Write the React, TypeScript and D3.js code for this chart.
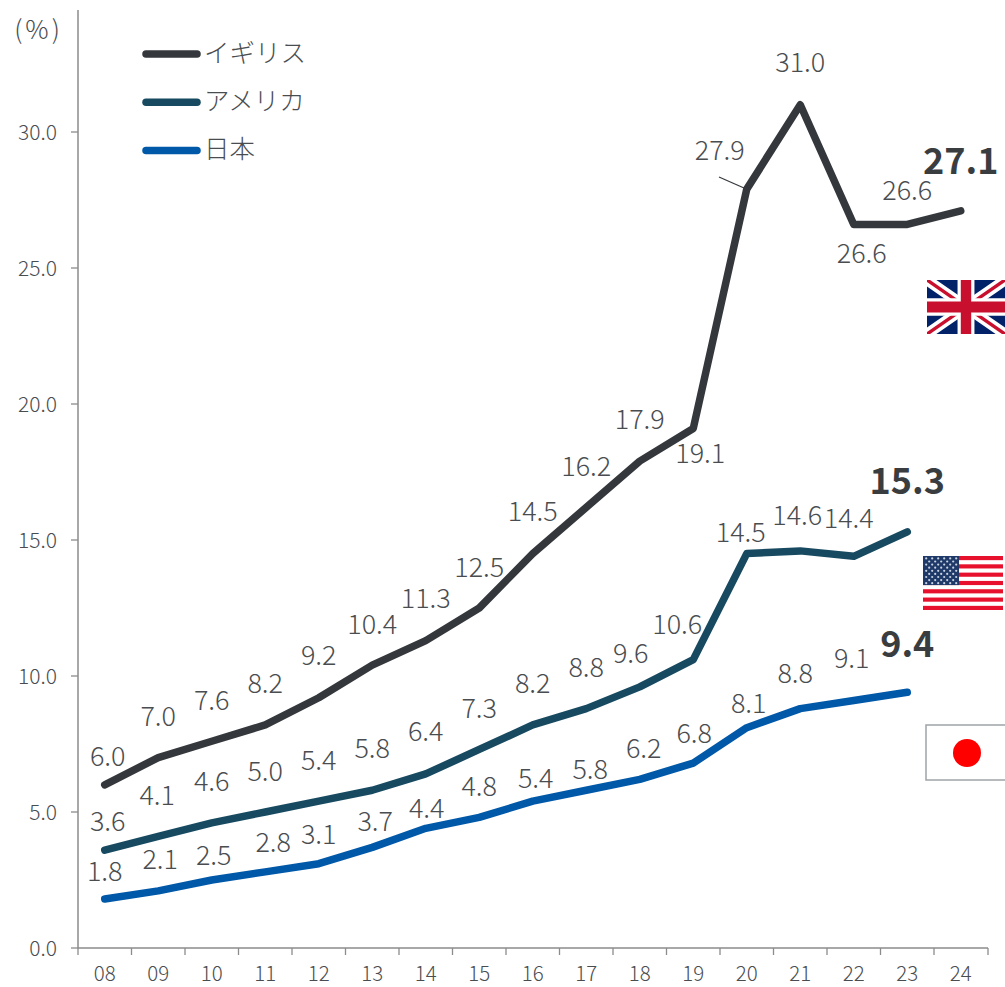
import React from "react";
import * as d3 from "d3";

const years = ["08","09","10","11","12","13","14","15","16","17","18","19","20","21","22","23","24"];
const ukValues = [6.0,7.0,7.6,8.2,9.2,10.4,11.3,12.5,14.5,16.2,17.9,19.1,27.9,31.0,26.6,26.6,27.1];
const usValues = [3.6,4.1,4.6,5.0,5.4,5.8,6.4,7.3,8.2,8.8,9.6,10.6,14.5,14.6,14.4,15.3];
const jpValues = [1.8,2.1,2.5,2.8,3.1,3.7,4.4,4.8,5.4,5.8,6.2,6.8,8.1,8.8,9.1,9.4];
const yTicks = [0,5,10,15,20,25,30];
const legendNames = ["イギリス","アメリカ","日本"];
const colors = ["#34383c","#174a60","#0058a8"];

// label offsets from each point, px
const ukOffsets: [number,number][] = [[3,-30],[0,-43],[0,-43],[0,-43],[0,-44],[0,-43],[0,-44],[0,-43],[0,-44],[0,-43],[0,-44],[7,23],[-27,-41],[0,-44],[8,27],[0,-36],[0,-53]];
const usOffsets: [number,number][] = [[3,-31],[-1,-43],[0,-43],[0,-43],[0,-43],[0,-44],[0,-44],[0,-43],[0,-43],[0,-43],[-9,-35],[-16,-37],[-6,-23],[-3,-37],[-5,-40],[0,-54]];
const jpOffsets: [number,number][] = [[0,-30],[2,-33],[2,-27],[8,-31],[0,-31],[3,-28],[1,-22],[0,-33],[3,-25],[4,-23],[4,-33],[1,-32],[2,-26],[-5,-37],[-2,-44],[0,-51]];

const FONT = "'Noto Sans CJK JP','Noto Sans',sans-serif";
const TEXT = "#4a4d50";

const x = d3.scaleBand<string>().domain(years).range([78, 987.5]);
const y = d3.scaleLinear().domain([0, 30]).range([948, 132]);
const cx = (i: number) => (x(years[i]) as number) + x.bandwidth() / 2;
const line = d3.line<number>().x((_, i) => cx(i)).y((d) => y(d));

const seriesList = [
  { values: ukValues, offsets: ukOffsets },
  { values: usValues, offsets: usOffsets },
  { values: jpValues, offsets: jpOffsets },
];

function UKFlag() {
  const [X, Y, W, H] = [927, 280, 78, 54];
  return (
    <svg x={X} y={Y} width={W} height={H} viewBox="0 0 60 40" preserveAspectRatio="none">
      <rect width="60" height="40" fill="#012169" />
      <path d="M0,0L60,40M60,0L0,40" stroke="#fff" strokeWidth="8" />
      <path d="M0,0L60,40M60,0L0,40" stroke="#c8102e" strokeWidth="2.6" />
      <path d="M30,0V40M0,20H60" stroke="#fff" strokeWidth="13" />
      <path d="M30,0V40M0,20H60" stroke="#c8102e" strokeWidth="8" />
    </svg>
  );
}

function USFlag() {
  const [X, Y, W, H] = [923, 556, 80, 54];
  const sh = H / 13;
  const stars: React.ReactNode[] = [];
  for (let r = 0; r < 9; r++) {
    const n = r % 2 === 0 ? 6 : 5;
    for (let c = 0; c < n; c++) {
      stars.push(<circle key={`${r}-${c}`} cx={X + 3.2 + (r % 2 === 0 ? 0 : 3) + c * 6} cy={Y + 2.4 + r * 3.1} r={1.1} fill="#c9d3e2" />);
    }
  }
  return (
    <g>
      <rect x={X} y={Y} width={W} height={H} fill="#fff" />
      {d3.range(0, 13, 2).map((i) => <rect key={i} x={X} y={Y + i * sh} width={W} height={sh} fill="#e8112d" />)}
      <rect x={X} y={Y} width={36} height={sh * 7} fill="#1f3a68" />
      {stars}
    </g>
  );
}

function JPFlag() {
  return (
    <g>
      <rect x={926} y={725} width={90} height={55} fill="#fff" stroke="#a0a4a8" strokeWidth={1.5} />
      <circle cx={967} cy={753} r={14} fill="#ff0000" />
    </g>
  );
}

export default function App() {
  return (
    <svg width={1005} height={987} style={{ position: "absolute", left: 0, top: 0, background: "#fff" }} fontFamily={FONT}>
      <path d="M78,10V948H988" fill="none" stroke="#8c8c8c" strokeWidth={1.5} />
      {yTicks.map((t) => (
        <g key={t}>
          <line x1={71} x2={78} y1={y(t)} y2={y(t)} stroke="#8c8c8c" strokeWidth={1.3} />
          <text x={57} y={y(t) - 1} textAnchor="end" dominantBaseline="central" fontSize={21} fill={TEXT} fontWeight={300}>{t.toFixed(1)}</text>
        </g>
      ))}
      {years.map((yr, i) => (
        <g key={yr}>
          <line x1={x(yr) as number} x2={x(yr) as number} y1={948} y2={955} stroke="#8c8c8c" strokeWidth={1.3} />
          <text x={cx(i)} y={981} textAnchor="middle" fontSize={20.5} fill={TEXT} fontWeight={300}>{yr}</text>
        </g>
      ))}
      <line x1={988} x2={988} y1={948} y2={955} stroke="#8c8c8c" strokeWidth={1.3} />
      <text x={38.5} y={27} textAnchor="middle" dominantBaseline="central" fontSize={26} letterSpacing={3} fill={TEXT} fontWeight={300}>(%)</text>

      <line x1={719} y1={177} x2={744} y2={188} stroke="#34383c" strokeWidth={1.2} />

      {seriesList.map((s, k) => (
        <path key={k} d={line(s.values) as string} fill="none" stroke={colors[k]} strokeWidth={7.5} strokeLinecap="round" strokeLinejoin="round" />
      ))}

      {seriesList.map((s, k) =>
        s.values.map((v, i) => {
          const last = i === s.values.length - 1;
          return (
            <text key={`${k}-${i}`} x={cx(i) + s.offsets[i][0]} y={y(v) + s.offsets[i][1]} textAnchor="middle" dominantBaseline="central"
              fontSize={last ? 36 : 27} fontWeight={last ? 700 : 300} fill={last ? "#3a3d40" : TEXT}>
              {v.toFixed(1)}
            </text>
          );
        })
      )}

      {legendNames.map((n, i) => {
        const ly = 54 + i * 48.3;
        return (
          <g key={n}>
            <line x1={146} x2={197} y1={ly} y2={ly} stroke={colors[i]} strokeWidth={7.5} strokeLinecap="round" />
            <text x={204} y={ly - 4} dominantBaseline="central" fontSize={25.5} fontWeight={300} fill={TEXT}>{n}</text>
          </g>
        );
      })}

      <UKFlag />
      <USFlag />
      <JPFlag />
    </svg>
  );
}
